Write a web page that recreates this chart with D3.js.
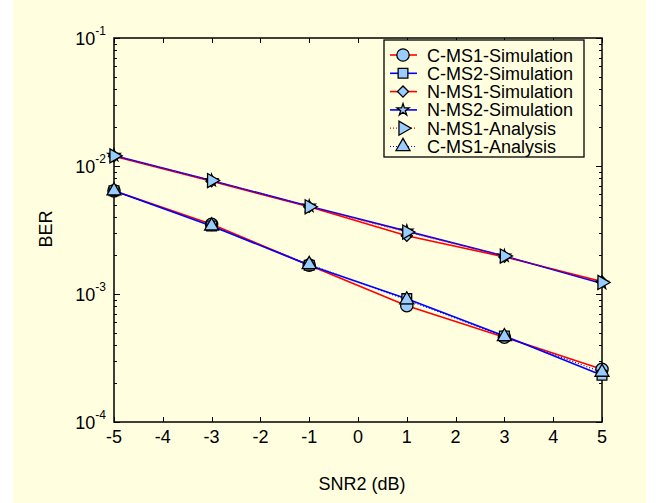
<!DOCTYPE html>
<html>
<head>
<meta charset="utf-8">
<script src="https://cdn.jsdelivr.net/npm/d3@7"></script>
<style>
  html, body { margin: 0; padding: 0; background: #ffffff; }
  svg { display: block; font-family: Arial, "Liberation Sans", sans-serif; }
</style>
</head>
<body>
<svg id="chart" width="656" height="503"></svg>
<script>
// SNR2 sweep (dB)
const snr = [-5, -3, -1, 1, 3, 5];

// BER per curve
const cms1Sim = [0.0064, 0.0035, 0.00168, 0.00081, 0.00046, 0.000258];
const cms2Sim = [0.0064, 0.0034, 0.00168, 0.00092, 0.00047, 0.000232];
const nms1Sim = [0.0119, 0.0076, 0.0048, 0.00285, 0.00195, 0.00125];
const nms2Sim = [0.0121, 0.0077, 0.00485, 0.0031, 0.00198, 0.00121];
const nms1Ana = [0.0120, 0.0077, 0.0048, 0.00305, 0.00198, 0.00123];
const cms1Ana = [0.0064, 0.0034, 0.00170, 0.00090, 0.000465, 0.000245];

const seriesNames = ["C-MS1-Simulation", "C-MS2-Simulation", "N-MS1-Simulation",
                     "N-MS2-Simulation", "N-MS1-Analysis", "C-MS1-Analysis"];
const seriesValues = [cms1Sim, cms2Sim, nms1Sim, nms2Sim, nms1Ana, cms1Ana];

// axis ticks
const xTicks = [-5, -4, -3, -2, -1, 0, 1, 2, 3, 4, 5];
const yDecades = [-4, -3, -2, -1];

// styling per series
const styles = [
  { color: "#ff0000", dash: null, symbol: d3.symbolCircle, size: 120, rot: 0 },
  { color: "#0000ff", dash: null, symbol: d3.symbolSquare, size: 95, rot: 0 },
  { color: "#ff0000", dash: null, symbol: d3.symbolSquare, size: 62, rot: 45 },
  { color: "#0000ff", dash: null, symbol: d3.symbolStar, size: 45, rot: 0 },
  { color: "#ff0000", dash: "1,2", symbol: d3.symbolTriangle, size: 85, rot: 90 },
  { color: "#0000ff", dash: "1,2", symbol: d3.symbolTriangle, size: 85, rot: 0 }
];

const svg = d3.select("#chart");
const markerFill = "#99ccff";

// panel background
svg.append("rect").attr("x", 13).attr("y", 0).attr("width", 633).attr("height", 503)
  .attr("fill", "#ffffe0");

const pL = 114, pR = 602, pT = 38, pB = 422;
const x = d3.scaleLinear().domain([-5, 5]).range([pL, pR]);
const y = d3.scaleLog().domain([1e-4, 1e-1]).range([pB, pT]);

// minor log ticks
const minor = [];
for (let e = -4; e < -1; e++) {
  for (let m = 2; m <= 9; m++) minor.push(m * Math.pow(10, e));
}

const ax = svg.append("g").attr("stroke", "#000").attr("stroke-width", 1);
// left & right ticks (inward)
minor.forEach(v => {
  const yy = Math.round(y(v)) + 0.5;
  ax.append("line").attr("x1", pL).attr("x2", pL + 3).attr("y1", yy).attr("y2", yy);
  ax.append("line").attr("x1", pR).attr("x2", pR - 3).attr("y1", yy).attr("y2", yy);
});
yDecades.forEach(e => {
  const yy = Math.round(y(Math.pow(10, e))) + 0.5;
  ax.append("line").attr("x1", pL).attr("x2", pL + 6).attr("y1", yy).attr("y2", yy);
  ax.append("line").attr("x1", pR).attr("x2", pR - 6).attr("y1", yy).attr("y2", yy);
});
// bottom & top ticks (inward)
xTicks.forEach(t => {
  const xx = Math.round(x(t)) + 0.5;
  ax.append("line").attr("x1", xx).attr("x2", xx).attr("y1", pB).attr("y2", pB - 5);
  ax.append("line").attr("x1", xx).attr("x2", xx).attr("y1", pT).attr("y2", pT + 5);
});

// frame
svg.append("rect").attr("x", pL).attr("y", pT)
  .attr("width", pR - pL).attr("height", pB - pT)
  .attr("fill", "none").attr("stroke", "#000").attr("stroke-width", 1.5);

// x tick labels
svg.append("g").selectAll("text").data(xTicks).join("text")
  .attr("x", d => x(d)).attr("y", 443)
  .attr("text-anchor", "middle").attr("font-size", 18).attr("fill", "#000")
  .text(d => d);

// y tick labels: 10 with superscript exponent
const yl = svg.append("g");
yDecades.forEach(e => {
  const yy = y(Math.pow(10, e));
  const t = yl.append("text").attr("x", 106).attr("y", yy + 6.5)
    .attr("text-anchor", "end").attr("font-size", 18).attr("fill", "#000");
  t.append("tspan").text("10");
  t.append("tspan").attr("font-size", 12).attr("dy", -9.5).text(String(e));
});

// axis titles
svg.append("text").attr("x", 362).attr("y", 490).attr("text-anchor", "middle")
  .attr("font-size", 18).text("SNR2 (dB)");
svg.append("text").attr("transform", "translate(52,229) rotate(-90)")
  .attr("text-anchor", "middle").attr("font-size", 18).text("BER");

// curves
const line = d3.line().x(d => x(d[0])).y(d => y(d[1]));
const plot = svg.append("g");
seriesValues.forEach((vals, i) => {
  const st = styles[i];
  const pts = snr.map((s, k) => [s, vals[k]]);
  plot.append("path").datum(pts).attr("d", line)
    .attr("fill", "none").attr("stroke", st.color)
    .attr("stroke-width", st.dash ? 1.2 : 1.6)
    .attr("stroke-dasharray", st.dash);
});
seriesValues.forEach((vals, i) => {
  const st = styles[i];
  const sym = d3.symbol().type(st.symbol).size(st.size);
  plot.append("g").selectAll("path").data(snr.map((s, k) => [s, vals[k]])).join("path")
    .attr("d", sym)
    .attr("transform", d => `translate(${x(d[0])},${y(d[1])}) rotate(${st.rot})`)
    .attr("fill", markerFill).attr("stroke", "#000").attr("stroke-width", 1.3);
});

// legend
const lg = svg.append("g");
lg.append("rect").attr("x", 384).attr("y", 40).attr("width", 200).attr("height", 117)
  .attr("fill", "#ffffe0").attr("stroke", "#000").attr("stroke-width", 1.3);
seriesNames.forEach((name, i) => {
  const st = styles[i];
  const yy = 55 + i * 18.3;
  lg.append("line").attr("x1", 390).attr("x2", 417).attr("y1", yy).attr("y2", yy)
    .attr("stroke", st.color).attr("stroke-width", st.dash ? 1.2 : 1.6)
    .attr("stroke-dasharray", st.dash);
  lg.append("path").attr("d", d3.symbol().type(st.symbol).size(st.size))
    .attr("transform", `translate(403,${yy}) rotate(${st.rot})`)
    .attr("fill", markerFill).attr("stroke", "#000").attr("stroke-width", 1.3);
  lg.append("text").attr("x", 427).attr("y", yy + 6.5).attr("font-size", 18)
    .attr("fill", "#000").text(name);
});
</script>
</body>
</html>
